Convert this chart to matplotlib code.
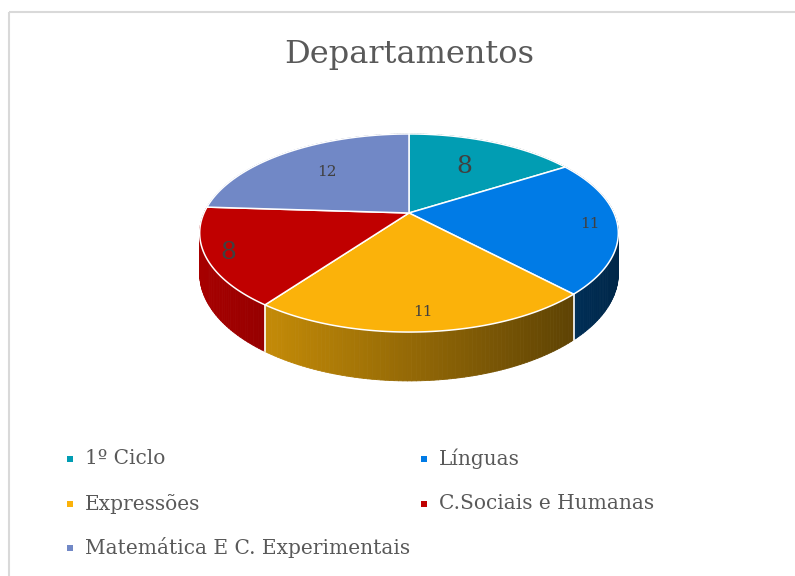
import matplotlib
matplotlib.use('Agg')
import matplotlib.pyplot as plt
from matplotlib.patches import Polygon, Rectangle
from matplotlib.collections import PolyCollection
from matplotlib.colors import to_rgb
import numpy as np

# data
departments = ['1º Ciclo', 'Línguas', 'Expressões', 'C.Sociais e Humanas',
               'Matemática E C. Experimentais']
counts = [8, 11, 11, 8, 12]
colors = ['#019DB3', '#007BE6', '#FBB20A', '#C00000', '#7188C6']
title = 'Departamentos'

# look of the fake 3d pie (pixel units)
CX, CY = 409, 213      # where the pie centre lands
SX, SY = 205, 95       # horizontal / vertical radius
K = 0.202              # perspective strength
DEPTH = 39             # thickness
label_r = [0.62, 0.87, 0.86, 0.9, 0.64]
label_size = [18, 11, 11, 18, 11]
text_col = '#595959'
font = 'DejaVu Serif'


def project(theta, r=1.0, z=0.0):
  x = r*np.sin(theta)
  y = r*np.cos(theta)
  w = 1 + K*y
  return CX + SX*x/w, CY - SY*y/w + DEPTH*z/w


def shade(c, px):
  f = 0.78 - (px-267)/303.0*0.40
  f = min(max(f, 0.25), 0.9)
  r, g, b = to_rgb(c)
  return (r*f, g*f, b*f)


fig = plt.figure(figsize=(7.95, 5.76), dpi=100)
ax = fig.add_axes([0, 0, 1, 1])
ax.set_xlim(0, 795)
ax.set_ylim(576, 0)
ax.axis('off')

ax.add_patch(Rectangle((8.5, 11.5), 900, 900, fill=False, ec='#D9D9D9', lw=1.5))

total = float(sum(counts))
edges = np.concatenate([[0], np.cumsum(counts)]) / total * 2*np.pi

# side walls, far pieces first
quads = []
for i in range(len(counts)):
  ts = np.linspace(edges[i], edges[i+1], int(np.degrees(edges[i+1]-edges[i]))+2)
  for a, b in zip(ts[:-1], ts[1:]):
    xa, ya = project(a)
    xb, yb = project(b)
    xa2, ya2 = project(a, z=1)
    xb2, yb2 = project(b, z=1)
    depth = np.cos((a+b)/2)
    quads.append((depth, [(xa, ya), (xb, yb), (xb2, yb2), (xa2, ya2)],
                  shade(colors[i], (xa+xb)/2)))
quads.sort(key=lambda q: -q[0])
pc = PolyCollection([q[1] for q in quads], facecolors=[q[2] for q in quads],
                    edgecolors=[q[2] for q in quads], linewidths=0.6)
ax.add_collection(pc)

# white seams on the front wall
for t in edges[1:-1]:
  if np.cos(t) < 0:
    x1, y1 = project(t)
    x2, y2 = project(t, z=1)
    ax.plot([x1, x2], [y1, y2], color='white', lw=1.2)

# top faces
for i in range(len(counts)):
  ts = np.linspace(edges[i], edges[i+1], 120)
  pts = [project(0, r=0)] + [project(t) for t in ts]
  ax.add_patch(Polygon(pts, closed=True, fc=colors[i], ec='white', lw=1.1))

# data labels
for i in range(len(counts)):
  mid = (edges[i]+edges[i+1])/2
  lx, ly = project(mid, r=label_r[i])
  ax.text(lx, ly, str(counts[i]), ha='center', va='center',
          fontsize=label_size[i], color='#404040', family=font)

ax.text(409, 55, title, ha='center', va='center', fontsize=23,
        color=text_col, family=font)

# legend, filled row by row
for i, name in enumerate(departments):
  row, col = i // 2, i % 2
  mx = [70, 424][col]
  my = 459 + row*44.5
  ax.scatter([mx], [my], marker='s', s=24, color=colors[i], linewidths=0)
  ax.text(mx+15, my, name, ha='left', va='center', fontsize=14.5,
          color=text_col, family=font)

fig.savefig('out.png', dpi=100)
